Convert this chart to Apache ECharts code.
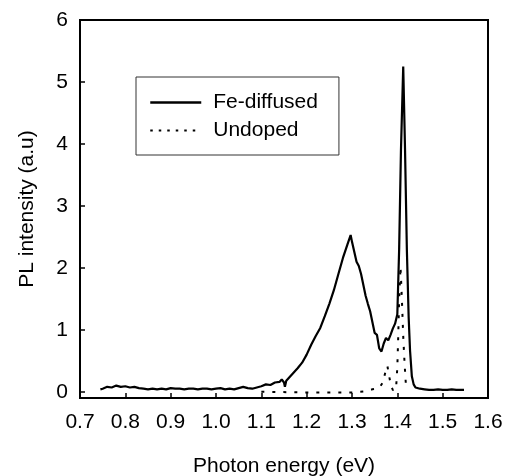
<!DOCTYPE html>
<html>
<head>
<meta charset="utf-8">
<script src="https://cdn.jsdelivr.net/npm/echarts@6/dist/echarts.min.js"></script>
<style>
html,body{margin:0;padding:0;background:#fff;}
#c{width:505px;height:476px;}
</style>
</head>
<body>
<div id="c"></div>
<script>
const xTicks = [0.7, 0.8, 0.9, 1.0, 1.1, 1.2, 1.3, 1.4, 1.5, 1.6];
const yTicks = [0, 1, 2, 3, 4, 5, 6];

const feEnergy = [0.745,0.75,0.76,0.77,0.78,0.79,0.80,0.81,0.82,0.83,0.84,0.85,0.86,0.87,0.88,0.89,0.90,0.91,0.92,0.93,0.94,0.95,0.96,0.97,0.98,0.99,1.00,1.01,1.02,1.03,1.04,1.05,1.06,1.07,1.08,1.09,1.10,1.11,1.12,1.13,1.14,1.145,1.15,1.152,1.155,1.16,1.17,1.18,1.19,1.20,1.21,1.22,1.23,1.24,1.25,1.26,1.27,1.28,1.29,1.297,1.30,1.31,1.315,1.32,1.33,1.335,1.34,1.35,1.355,1.36,1.365,1.37,1.375,1.38,1.385,1.39,1.395,1.40,1.404,1.408,1.413,1.417,1.421,1.425,1.428,1.432,1.436,1.44,1.45,1.46,1.47,1.48,1.49,1.50,1.51,1.52,1.53,1.54,1.547];
const feIntensity = [0.04,0.05,0.08,0.07,0.10,0.08,0.09,0.07,0.08,0.06,0.05,0.04,0.05,0.04,0.05,0.04,0.06,0.05,0.05,0.04,0.05,0.05,0.04,0.05,0.05,0.04,0.05,0.06,0.04,0.05,0.04,0.06,0.08,0.06,0.05,0.07,0.09,0.12,0.11,0.15,0.16,0.20,0.15,0.08,0.18,0.22,0.30,0.38,0.47,0.60,0.76,0.90,1.03,1.22,1.42,1.64,1.90,2.16,2.38,2.53,2.42,2.10,2.03,1.90,1.55,1.42,1.30,0.95,0.92,0.70,0.65,0.78,0.87,0.83,0.92,1.02,1.10,1.25,2.30,3.90,5.25,3.90,2.30,1.20,0.67,0.25,0.12,0.07,0.05,0.04,0.03,0.03,0.04,0.03,0.03,0.04,0.03,0.03,0.03];

const unEnergy = [1.10,1.20,1.30,1.33,1.345,1.36,1.368,1.373,1.378,1.382,1.386,1.39,1.397,1.400,1.402,1.404,1.407,1.41,1.413,1.416,1.419,1.422];
const unIntensity = [0.0,-0.01,-0.01,0.01,0.04,0.06,0.15,0.30,0.42,0.25,0.10,0.03,0.03,0.40,0.90,1.50,2.02,1.50,0.90,0.45,0.10,0.02];

const font = '"Liberation Sans", Arial, Helvetica, sans-serif';
const zip = (a, b) => a.map((v, i) => [v, b[i]]);

const chart = echarts.init(document.getElementById('c'), null, {renderer: 'canvas'});
chart.setOption({
  animation: false,
  backgroundColor: '#fff',
  textStyle: {fontFamily: font, color: '#000'},
  grid: {left: 80, right: 17, top: 20, bottom: 78, show: true, borderColor: '#000', borderWidth: 2, backgroundColor: 'transparent', containLabel: false, outerBoundsMode: 'none'},
  legend: {
    left: 136, top: 77,
    orient: 'vertical',
    borderColor: '#333', borderWidth: 1,
    padding: [15, 21, 14, 13],
    itemWidth: 51, itemHeight: 21, itemGap: 7,
    itemStyle: {opacity: 0},
    textStyle: {fontFamily: font, fontSize: 21, color: '#000', lineHeight: 21, padding: [0, 0, 0, 7]},
    data: [
      {name: 'Fe-diffused', lineStyle: {width: 2.5, color: '#000', type: 'solid'}},
      {name: 'Undoped', lineStyle: {width: 2, color: '#000', type: [2.5, 6]}}
    ]
  },
  xAxis: {
    type: 'value', min: 0.7, max: 1.6,
    name: 'Photon energy (eV)', nameLocation: 'middle', nameGap: 58,
    nameTextStyle: {fontFamily: font, fontSize: 21, color: '#000'},
    axisLine: {show: true, onZero: false, lineStyle: {color: '#000', width: 2}},
    axisTick: {show: true, inside: true, length: 5, customValues: xTicks, lineStyle: {color: '#000', width: 1.5}},
    axisLabel: {customValues: xTicks, formatter: v => v.toFixed(1), fontFamily: font, fontSize: 21, color: '#000', margin: 14},
    splitLine: {show: false}
  },
  yAxis: {
    type: 'value', min: -0.1, max: 6,
    name: 'PL intensity (a.u)', nameLocation: 'middle', nameGap: 42,
    nameTextStyle: {fontFamily: font, fontSize: 21, color: '#000'},
    axisLine: {show: true, onZero: false, lineStyle: {color: '#000', width: 2}},
    axisTick: {show: true, inside: true, length: 5, customValues: yTicks, lineStyle: {color: '#000', width: 1.5}},
    axisLabel: {customValues: yTicks, formatter: v => String(v), fontFamily: font, fontSize: 21, color: '#000', margin: 12},
    splitLine: {show: false}
  },
  series: [
    {
      name: 'Fe-diffused', type: 'line', symbol: 'none', showSymbol: false,
      data: zip(feEnergy, feIntensity),
      lineStyle: {color: '#000', width: 2.2, type: 'solid'},
      itemStyle: {color: '#000'}
    },
    {
      name: 'Undoped', type: 'line', symbol: 'none', showSymbol: false,
      data: zip(unEnergy, unIntensity),
      lineStyle: {color: '#000', width: 2, type: [3, 8]},
      itemStyle: {color: '#000'}
    }
  ]
});
</script>
</body>
</html>
